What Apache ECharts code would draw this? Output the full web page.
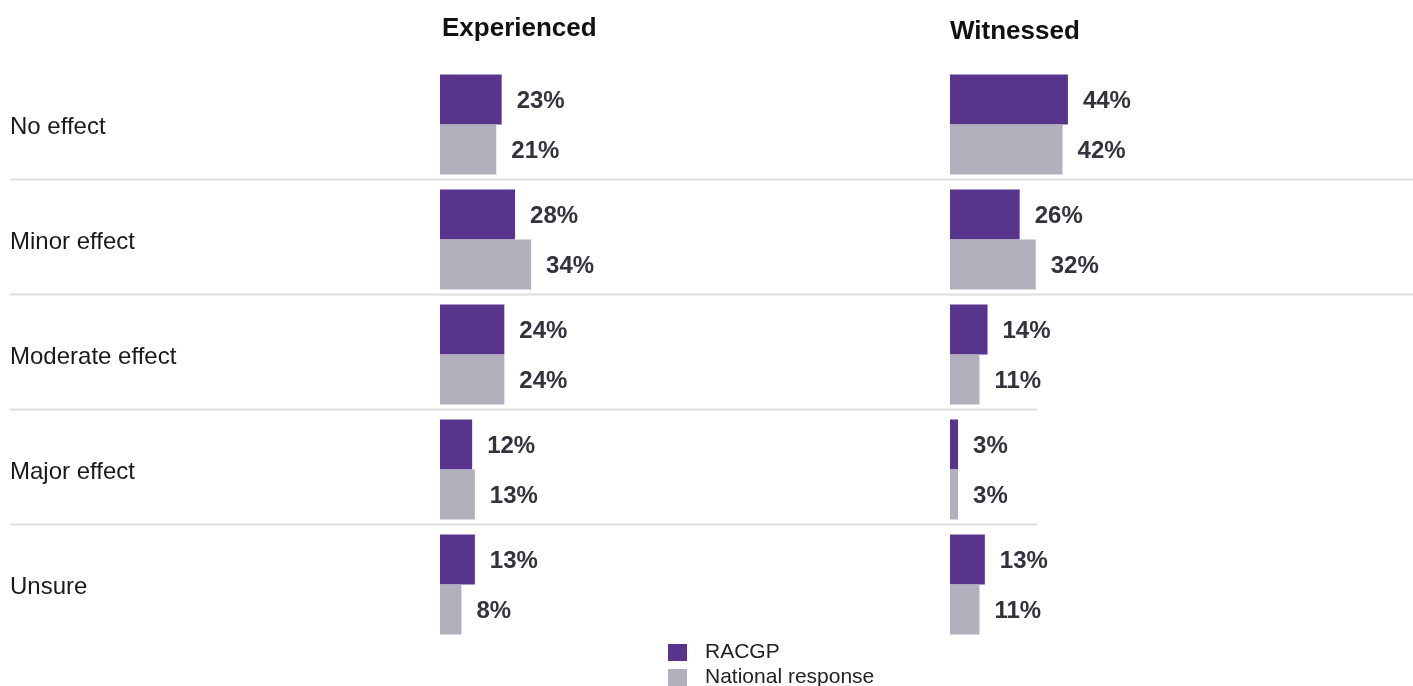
<!DOCTYPE html>
<html>
<head>
<meta charset="utf-8">
<script src="https://cdn.jsdelivr.net/npm/echarts@6/dist/echarts.min.js"></script>
<style>
html,body{margin:0;padding:0;background:#fff;}
#chart{width:1413px;height:686px;}
</style>
</head>
<body>
<div id="chart"></div>
<script>
const categories = ['No effect', 'Minor effect', 'Moderate effect', 'Major effect', 'Unsure'];
const panelTitles = ['Experienced', 'Witnessed'];
const seriesNames = ['RACGP', 'National response'];
const experiencedRacgp = [23, 28, 24, 12, 13];
const experiencedNational = [21, 34, 24, 13, 8];
const witnessedRacgp = [44, 26, 14, 3, 13];
const witnessedNational = [42, 32, 11, 3, 11];

const FONT = "'Liberation Sans', Arial, Helvetica, sans-serif";
const PURPLE = '#58348d';
const GREY = '#b1b0bc';

const chart = echarts.init(document.getElementById('chart'));

function barSeries(name, data, idx, color) {
  return {
    name: name,
    type: 'bar',
    xAxisIndex: idx,
    yAxisIndex: idx,
    data: data,
    barWidth: 50,
    barGap: '0%',
    itemStyle: { color: color },
    label: {
      show: true,
      position: 'right',
      distance: 15,
      offset: [0, 2],
      formatter: '{c}%',
      fontFamily: FONT,
      fontSize: 24,
      fontWeight: 'bold',
      color: '#33333d'
    },
    emphasis: { disabled: true },
    animation: false
  };
}

function legendFor(name, top) {
  return {
    left: 668,
    top: top,
    padding: 0,
    itemWidth: 19,
    itemHeight: 17,
    icon: 'rect',
    data: [name],
    selectedMode: false,
    textStyle: { fontFamily: FONT, fontSize: 21, color: '#222', padding: [0, 0, 0, 13] }
  };
}

const gridTop = 67, bandH = 115;
const option = {
  animation: false,
  title: [
    { text: panelTitles[0], left: 442, top: 16, padding: 0, textStyle: { fontFamily: FONT, fontSize: 26, fontWeight: 'bold', color: '#111' } },
    { text: panelTitles[1], left: 950, top: 19, padding: 0, textStyle: { fontFamily: FONT, fontSize: 26, fontWeight: 'bold', color: '#111' } }
  ],
  legend: [legendFor(seriesNames[0], 642), legendFor(seriesNames[1], 667)],
  grid: [
    { left: 440, top: gridTop, width: 268, height: bandH * categories.length },
    { left: 950, top: gridTop, width: 268, height: bandH * categories.length }
  ],
  xAxis: [
    { type: 'value', gridIndex: 0, min: 0, max: 100, show: false },
    { type: 'value', gridIndex: 1, min: 0, max: 100, show: false }
  ],
  yAxis: [
    {
      type: 'category', gridIndex: 0, data: categories, inverse: true,
      axisLine: { show: false }, axisTick: { show: false }, splitLine: { show: false },
      axisLabel: {
        align: 'left', margin: 430, fontFamily: FONT, fontSize: 24, color: '#1a1a1a',
        formatter: function (v) { return '{c|' + v + '}'; },
        rich: { c: { fontFamily: FONT, fontSize: 24, color: '#1a1a1a', padding: [5, 0, 0, 0] } }
      }
    },
    {
      type: 'category', gridIndex: 1, data: categories, inverse: true,
      axisLine: { show: false }, axisTick: { show: false }, splitLine: { show: false },
      axisLabel: { show: false }
    }
  ],
  series: [
    barSeries(seriesNames[0], experiencedRacgp, 0, PURPLE),
    barSeries(seriesNames[1], experiencedNational, 0, GREY),
    barSeries(seriesNames[0], witnessedRacgp, 1, PURPLE),
    barSeries(seriesNames[1], witnessedNational, 1, GREY)
  ]
};
chart.setOption(option);

// separator lines between category rows, positioned from the axis
const lines = [];
for (let i = 0; i < categories.length - 1; i++) {
  const a = chart.convertToPixel({ yAxisIndex: 0 }, categories[i]);
  const b = chart.convertToPixel({ yAxisIndex: 0 }, categories[i + 1]);
  const y = Math.round((a + b) / 2) - 2.5;
  const x2 = i < 2 ? 1413 : 1037;
  lines.push({
    type: 'line',
    shape: { x1: 10, y1: y, x2: x2, y2: y },
    style: { stroke: '#dedede', lineWidth: 2 },
    silent: true,
    z: 0
  });
}
chart.setOption({ graphic: lines });
</script>
</body>
</html>
